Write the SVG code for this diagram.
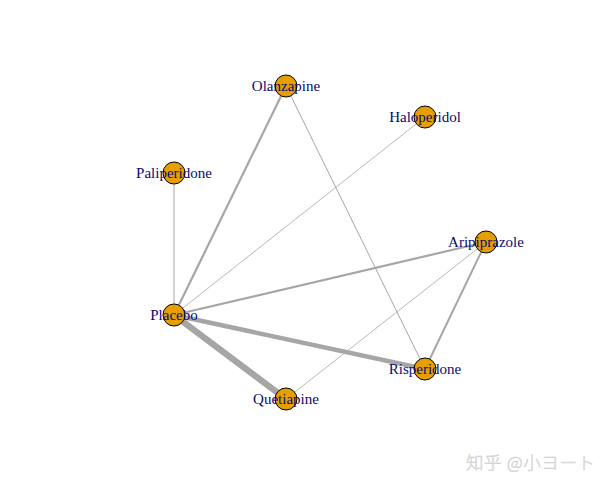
<svg xmlns="http://www.w3.org/2000/svg" width="615" height="489" viewBox="0 0 615 489">
<style>
.e{stroke:#a6a6a6;fill:none;stroke-linecap:butt}
.n circle{fill:#e69f00;stroke:#000;stroke-width:1}
.n text{font-family:"Liberation Serif",serif;font-size:15px;fill:#0a0a6e;text-anchor:middle}
.wm{font-family:"Noto Sans CJK SC","Noto Sans CJK JP",sans-serif;font-size:17.5px;font-weight:300;fill:#ebebeb;stroke:#cfcfcf;stroke-width:0.5}
</style>
<rect width="615" height="489" fill="#fff"/>
<g id="edges">
<line class="e" x1="174" y1="315" x2="174" y2="173" stroke-width="1"/>
<line class="e" x1="174" y1="315" x2="286" y2="86" stroke-width="2.2"/>
<line class="e" x1="174" y1="315" x2="425" y2="117" stroke-width="0.8"/>
<line class="e" x1="174" y1="315" x2="486" y2="242" stroke-width="2.2"/>
<line class="e" x1="174" y1="315" x2="425" y2="369" stroke-width="4.5"/>
<line class="e" x1="174" y1="315" x2="286" y2="399" stroke-width="6.5"/>
<line class="e" x1="286" y1="86" x2="425" y2="369" stroke-width="1"/>
<line class="e" x1="486" y1="242" x2="286" y2="399" stroke-width="0.8"/>
<line class="e" x1="486" y1="242" x2="425" y2="369" stroke-width="2"/>
</g>
<g id="Olanzapine" class="n"><circle cx="286" cy="86" r="11"/><text x="286" y="91">Olanzapine</text></g>
<g id="Haloperidol" class="n"><circle cx="425" cy="117" r="11"/><text x="425" y="122">Haloperidol</text></g>
<g id="Paliperidone" class="n"><circle cx="174" cy="173" r="11"/><text x="174" y="178">Paliperidone</text></g>
<g id="Aripiprazole" class="n"><circle cx="486" cy="242" r="11"/><text x="486" y="247">Aripiprazole</text></g>
<g id="Placebo" class="n"><circle cx="174" cy="315" r="11"/><text x="174" y="320">Placebo</text></g>
<g id="Risperidone" class="n"><circle cx="425" cy="369" r="11"/><text x="425" y="374">Risperidone</text></g>
<g id="Quetiapine" class="n"><circle cx="286" cy="399" r="11"/><text x="286" y="404">Quetiapine</text></g>
<text class="wm" x="466" y="469" textLength="129">知乎 @小ヨート</text>
</svg>
